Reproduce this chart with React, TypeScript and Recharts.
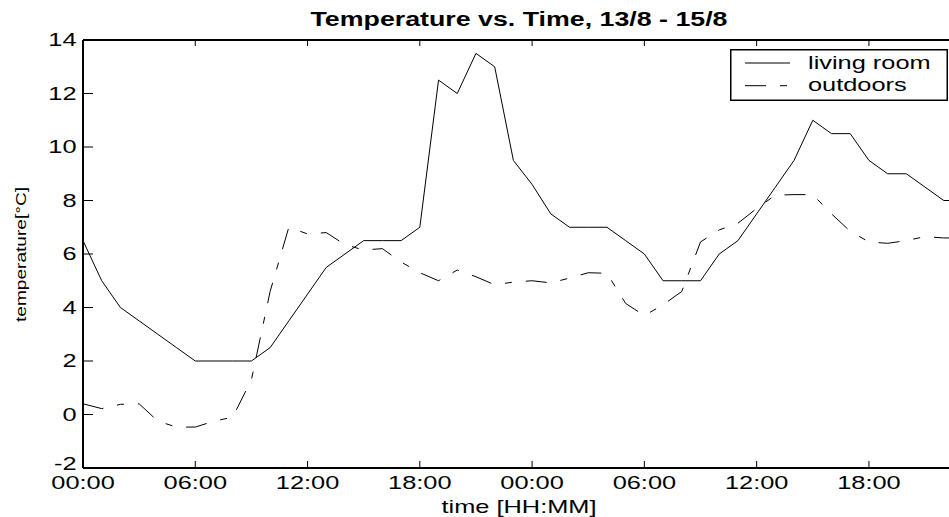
import { Legend, Line, LineChart, XAxis, YAxis } from "recharts";

// hourly samples, 13/8 00:00 onwards
const hours = [
  0, 1, 2, 3, 4, 5, 6, 7, 8, 9, 10, 11, 12, 13, 14, 15, 16, 17, 18, 19, 20, 21, 22, 23,
  24, 25, 26, 27, 28, 29, 30, 31, 32, 33, 34, 35, 36, 37, 38, 39, 40, 41, 42, 43, 44, 45, 46, 47,
];

const livingRoom = [
  6.5, 5.0, 4.0, 3.5, 3.0, 2.5, 2.0, 2.0, 2.0, 2.0, 2.5, 3.5, 4.5, 5.5, 6.0, 6.5, 6.5, 6.5, 7.0, 12.5,
  12.0, 13.5, 13.0, 9.5, 8.6, 7.5, 7.0, 7.0, 7.0, 6.5, 6.0, 5.0, 5.0, 5.0, 6.0, 6.5, 7.5, 8.5, 9.5, 11.0,
  10.5, 10.5, 9.5, 9.0, 9.0, 8.5, 8.0, 8.0,
];

const outdoors = [
  0.4, 0.22, 0.38, 0.4, -0.25, -0.47, -0.47, -0.25, -0.1, 1.3, 4.6, 7.0, 6.75, 6.8, 6.35, 6.15, 6.2,
  5.7, 5.3, 5.0, 5.4, 5.15, 4.85, 4.95, 5.0, 4.92, 5.1, 5.3, 5.28, 4.15, 3.7, 4.1, 4.6, 6.45, 6.9, 7.15,
  7.7, 8.2, 8.22, 8.22, 7.5, 6.85, 6.45, 6.4, 6.5, 6.65, 6.6, 6.6,
];

const timeTicks = [0, 6, 12, 18, 24, 30, 36, 42];
const timeLabels = ["00:00", "06:00", "12:00", "18:00", "00:00", "06:00", "12:00", "18:00"];
const tempTicks = [-2, 0, 2, 4, 6, 8, 10, 12, 14];

const data = hours.map((hour, i) => ({
  hour,
  living: livingRoom[i],
  outdoors: outdoors[i],
}));

const FONT = '"Liberation Sans", Arial, Helvetica, sans-serif';
const STRETCH = 1.45;
const dashes: Record<string, string | undefined> = {
  living: undefined,
  outdoors: "21 14 7 14",
};

function WideText({ x, y, anchor, children }: { x: number; y: number; anchor: "start" | "middle" | "end"; children: any }) {
  return (
    <text
      transform={`translate(${x} ${y}) scale(${STRETCH} 1)`}
      textAnchor={anchor}
      fontSize={17.5}
      fontFamily={FONT}
      fill="#000"
    >
      {children}
    </text>
  );
}

function XTick({ x, y, payload }: any) {
  const idx = timeTicks.indexOf(payload.value);
  return (
    <g>
      <line x1={x} x2={x} y1={y} y2={y - 7} stroke="#000" strokeWidth={1} />
      <WideText x={x} y={y + 21} anchor="middle">
        {timeLabels[idx]}
      </WideText>
    </g>
  );
}

function TopTick({ x, y }: any) {
  return <line x1={x} x2={x} y1={y} y2={y + 6} stroke="#000" strokeWidth={1} />;
}

function YTick({ x, y, payload }: any) {
  // the bottom label sits a little higher so it clears the first time label
  const dy = payload.value === -2 ? 2 : 6;
  return (
    <g>
      <line x1={x} x2={x + 10} y1={y} y2={y} stroke="#000" strokeWidth={1} />
      <WideText x={x - 6.5} y={y + dy} anchor="end">
        {payload.value}
      </WideText>
    </g>
  );
}

function XLabel({ viewBox }: any) {
  const cx = viewBox ? viewBox.x + viewBox.width / 2 : 519;
  return (
    <WideText x={cx} y={512.5} anchor="middle">
      time [HH:MM]
    </WideText>
  );
}

function YLabel() {
  return (
    <text
      transform="translate(26 322) rotate(-90)"
      textAnchor="start"
      fontSize={15}
      fontFamily={FONT}
      textLength={135}
      lengthAdjust="spacingAndGlyphs"
      fill="#000"
    >
      temperature[°C]
    </text>
  );
}

function LegendBox({ payload }: any) {
  const items = payload ?? [];
  return (
    <svg width={218} height={52} style={{ display: "block" }}>
      <rect x={0.75} y={0.75} width={216.5} height={50.5} fill="#fff" stroke="#000" strokeWidth={1.5} />
      {items.map((entry: any, i: number) => (
        <g key={entry.value}>
          <line
            x1={15}
            x2={60}
            y1={14 + i * 22.7}
            y2={14 + i * 22.7}
            stroke="#000"
            strokeWidth={1}
            strokeDasharray={dashes[entry.dataKey]}
          />
          <WideText x={78} y={20 + i * 22.4} anchor="start">
            {entry.value}
          </WideText>
        </g>
      ))}
    </svg>
  );
}

export default function App() {
  return (
    <div
      style={{
        position: "absolute",
        left: 0,
        top: 0,
        width: 949,
        height: 517,
        overflow: "hidden",
        background: "#fff",
      }}
    >
      <LineChart width={960} height={517} data={data} margin={{ top: 39, right: 5, bottom: 0, left: 0 }}>
        <XAxis
          dataKey="hour"
          type="number"
          domain={[0, 46.6]}
          ticks={timeTicks}
          allowDataOverflow
          height={49}
          tickSize={0}
          tickMargin={0}
          tickLine={false}
          tick={<XTick />}
          axisLine={{ stroke: "#000", strokeWidth: 2 }}
          label={<XLabel />}
        />
        <XAxis
          xAxisId="top"
          dataKey="hour"
          type="number"
          orientation="top"
          domain={[0, 46.6]}
          ticks={timeTicks}
          allowDataOverflow
          height={1}
          tickSize={0}
          tickMargin={0}
          tickLine={false}
          tick={<TopTick />}
          axisLine={{ stroke: "#000", strokeWidth: 2 }}
        />
        <YAxis
          type="number"
          domain={[-2, 14]}
          ticks={tempTicks}
          width={83}
          tickSize={0}
          tickMargin={0}
          tickLine={false}
          tick={<YTick />}
          axisLine={{ stroke: "#000", strokeWidth: 2 }}
          label={<YLabel />}
        />
        <Legend
          layout="vertical"
          align="center"
          verticalAlign="middle"
          content={<LegendBox />}
          wrapperStyle={{ left: 730, top: 49, width: 218, height: 52 }}
        />
        <Line
          dataKey="living"
          name="living room"
          type="linear"
          stroke="#000"
          strokeWidth={1}
          dot={false}
          activeDot={false}
          isAnimationActive={false}
        />
        <Line
          dataKey="outdoors"
          name="outdoors"
          type="linear"
          stroke="#000"
          strokeWidth={1}
          strokeDasharray={dashes.outdoors}
          dot={false}
          activeDot={false}
          isAnimationActive={false}
        />
      </LineChart>
      <svg
        width={949}
        height={34}
        style={{ position: "absolute", left: 0, top: 0, pointerEvents: "none" }}
      >
        <text
          x={519}
          y={26}
          textAnchor="middle"
          fontSize={19.5}
          fontWeight="bold"
          fontFamily={FONT}
          textLength={417}
          lengthAdjust="spacingAndGlyphs"
          fill="#000"
        >
          Temperature vs. Time, 13/8 - 15/8
        </text>
      </svg>
    </div>
  );
}
